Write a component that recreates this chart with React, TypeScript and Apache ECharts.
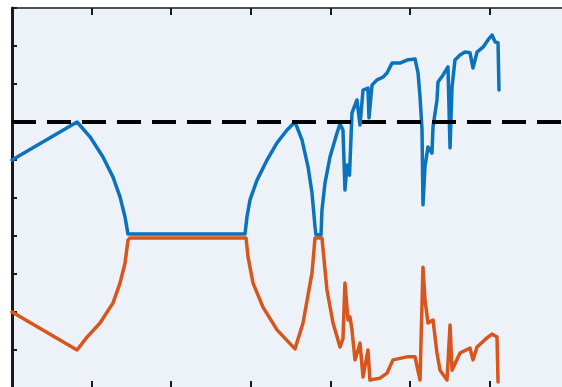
import React, { useEffect, useRef } from "react";
import * as echarts from "echarts";

// Axis extents (tick units) and the reference level drawn as a dashed rule.
const xRange = [0, 7];
const yRange = [0, 10];
const thresholdLevel = 7;

// Upper trace (blue): [x, y]
const upperTrace: [number, number][] = [
  [0, 6.0], [0.817, 7.0], [0.98, 6.61], [1.143, 6.08], [1.269, 5.55], [1.357, 5.03],
  [1.42, 4.5], [1.457, 4.05], [2.927, 4.05], [2.952, 4.5], [2.99, 4.95], [3.078, 5.47],
  [3.204, 6.0], [3.329, 6.45], [3.455, 6.79], [3.555, 7.0], [3.643, 6.53], [3.719, 5.82],
  [3.769, 5.13], [3.807, 4.24], [3.819, 4.03], [3.882, 4.03], [3.894, 4.68], [3.932, 5.39],
  [3.995, 6.08], [4.083, 6.71], [4.121, 6.95], [4.158, 6.79], [4.183, 5.21], [4.209, 5.87],
  [4.24, 5.6], [4.271, 7.24], [4.334, 7.58], [4.372, 6.92], [4.41, 7.84], [4.472, 7.89],
  [4.485, 7.11], [4.523, 7.97], [4.585, 8.11], [4.661, 8.18], [4.711, 8.29], [4.774, 8.55],
  [4.874, 8.55], [4.962, 8.63], [5.063, 8.66], [5.101, 8.29], [5.126, 7.66], [5.151, 6.79],
  [5.163, 4.82], [5.188, 5.82], [5.226, 6.34], [5.276, 6.18], [5.289, 6.87], [5.339, 7.58],
  [5.352, 8.05], [5.415, 8.24], [5.477, 8.45], [5.503, 6.32], [5.528, 7.92], [5.565, 8.63],
  [5.628, 8.76], [5.691, 8.84], [5.754, 8.82], [5.791, 8.42], [5.842, 8.84], [5.917, 8.97],
  [5.98, 9.16], [6.03, 9.29], [6.068, 9.11], [6.106, 9.08], [6.118, 7.84],
];

// Lower trace (orange): [x, y]
const lowerTrace: [number, number][] = [
  [0, 2.0], [0.817, 1.0], [0.942, 1.34], [1.106, 1.71], [1.269, 2.24], [1.357, 2.76],
  [1.42, 3.29], [1.457, 3.89], [1.482, 3.95], [2.94, 3.95], [2.965, 3.45], [3.028, 2.76],
  [3.153, 2.13], [3.329, 1.53], [3.555, 1.03], [3.656, 1.71], [3.769, 3.03], [3.807, 3.95],
  [3.894, 3.95], [3.957, 2.58], [4.033, 1.71], [4.121, 1.08], [4.158, 1.3], [4.183, 2.76],
  [4.221, 1.79], [4.246, 1.87], [4.271, 1.53], [4.309, 0.74], [4.372, 1.18], [4.41, 0.29],
  [4.472, 1.0], [4.497, 0.21], [4.623, 0.26], [4.711, 0.39], [4.786, 0.74], [4.962, 0.82],
  [5.063, 0.82], [5.126, 0.21], [5.163, 3.18], [5.188, 2.32], [5.226, 1.71], [5.289, 1.79],
  [5.339, 0.92], [5.377, 0.47], [5.465, 0.21], [5.503, 1.66], [5.528, 0.47], [5.628, 0.92],
  [5.754, 1.05], [5.791, 0.74], [5.842, 1.08], [5.967, 1.32], [6.03, 1.42], [6.093, 1.34],
  [6.106, 0.16],
];

const BLUE = "#0b72bd";
const ORANGE = "#d9551b";

export default function App() {
  const ref = useRef<HTMLDivElement>(null);

  useEffect(() => {
    if (!ref.current) return;
    const chart = echarts.init(ref.current, null, { renderer: "svg" });

    const tickStyle = { color: "#1a1a1a", width: 2 };

    // The plot box is larger than the visible window: only its top and
    // left frame lines fall inside the clipped view.
    chart.setOption({
      animation: false,
      backgroundColor: "#ffffff",
      grid: {
        show: true,
        left: 12,
        top: 8,
        width: 557.2,
        height: 380,
        backgroundColor: "#edf2f9",
        borderWidth: 0,
      },
      xAxis: [
        {
          type: "value",
          position: "bottom",
          min: xRange[0],
          max: xRange[1],
          interval: 1,
          axisLine: { show: false },
          axisTick: { show: true, inside: true, length: 7, lineStyle: tickStyle },
          axisLabel: { show: false },
          splitLine: { show: false },
        },
        {
          type: "value",
          position: "top",
          min: xRange[0],
          max: xRange[1],
          interval: 1,
          axisLine: { show: true, onZero: false, lineStyle: { color: "#1a1a1a", width: 1.5 } },
          axisTick: { show: true, inside: true, length: 7, lineStyle: tickStyle },
          axisLabel: { show: false },
          splitLine: { show: false },
        },
      ],
      yAxis: {
        type: "value",
        min: yRange[0],
        max: yRange[1],
        interval: 1,
        axisLine: { show: true, onZero: false, lineStyle: { color: "#1a1a1a", width: 3 } },
        axisTick: { show: true, inside: true, length: 5, lineStyle: tickStyle },
        axisLabel: { show: false },
        splitLine: { show: false },
      },
      series: [
        {
          type: "line",
          data: lowerTrace,
          showSymbol: false,
          lineStyle: { color: ORANGE, width: 3.5, join: "round", cap: "round" },
          z: 2,
        },
        {
          type: "line",
          data: upperTrace,
          showSymbol: false,
          lineStyle: { color: BLUE, width: 3.5, join: "round", cap: "round" },
          z: 3,
        },
        {
          type: "line",
          data: [
            [xRange[0], thresholdLevel],
            [xRange[1], thresholdLevel],
          ],
          showSymbol: false,
          lineStyle: { color: "#000000", width: 4, type: [24, 11] },
          z: 4,
        },
      ],
    });

    return () => chart.dispose();
  }, []);

  return (
    <div
      style={{
        position: "fixed",
        left: 0,
        top: 0,
        width: 562,
        height: 387,
        overflow: "hidden",
        background: "#ffffff",
      }}
    >
      <div ref={ref} style={{ position: "absolute", left: 0, top: 0, width: 700, height: 440 }} />
    </div>
  );
}
